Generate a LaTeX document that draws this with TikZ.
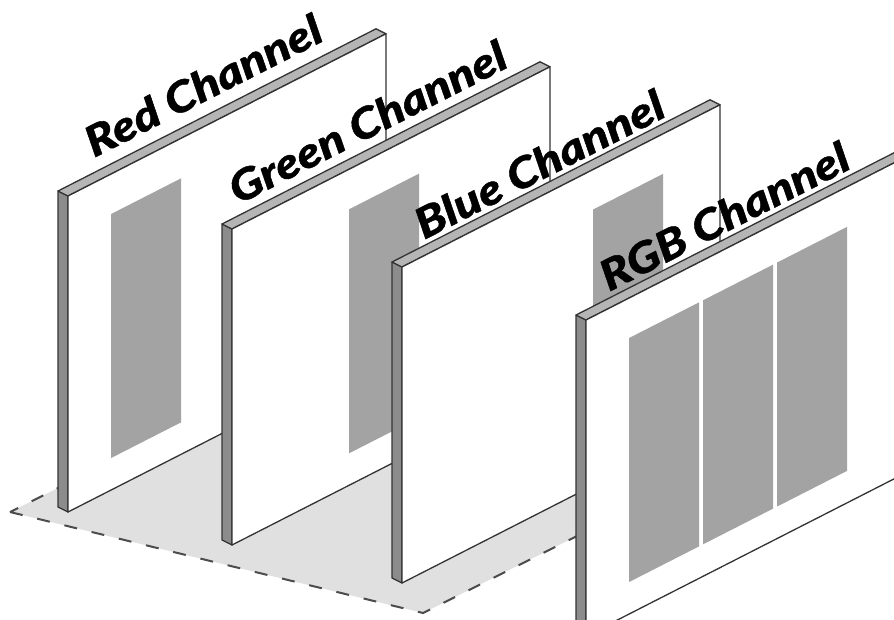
\documentclass[tikz,border=0pt]{standalone}
\usepackage{fontspec}
\IfFontExistsTF{Lato Black Italic}
 {\newfontfamily\lblfont{Lato Black Italic}[FakeBold=1]\newcommand\lblshape{}}
 {\newfontfamily\lblfont{Open Sans}[FakeBold=1.5]\newcommand\lblshape{\bfseries\itshape}}
\tikzset{
 face/.style={fill=white, draw=black!80, line width=1.3pt, line join=round},
 sideface/.style={fill=black!45, draw=black!80, line width=1.3pt, line join=round},
 topface/.style={fill=black!29, draw=black!80, line width=1.3pt, line join=round},
 stripe/.style={fill=black!36},
 floorfill/.style={fill=black!12},
 flooredge/.style={draw=black!70, line width=2pt, dash pattern=on 13pt off 15pt},
 lbl/.style={font=\lblfont\lblshape\fontsize{42}{42}\selectfont, rotate=27, xscale=1.16, anchor=base west, inner sep=0pt}
}
\newcommand\drawpanel[2]{%
 \begin{scope}[shift={(#1)}]
  \draw[sideface] (0,0) -- (0,316) -- (-10,311) -- (-10,-5) -- cycle;
  \draw[topface] (0,0) -- (318,-162.2) -- (308,-167.2) -- (-10,-5) -- cycle;
  \draw[face] (0,0) -- (318,-162.2) -- (318,153.8) -- (0,316) -- cycle;
  \foreach \a in {#2} {
   \path[stripe] (\a,{40-0.51*\a}) -- ({\a+70},{40-0.51*(\a+70)}) -- ({\a+70},{284-0.51*(\a+70)}) -- (\a,{284-0.51*\a}) -- cycle;
  }
 \end{scope}}
\begin{document}
\begin{tikzpicture}[x=1pt,y=-1pt]
\useasboundingbox (0,0) rectangle (894,619);
\clip (0,0) rectangle (894,619);
% floor
\path[floorfill] (10,512) -- (423,613) -- (723,463) -- (310,362) -- cycle;
\draw[flooredge] (10,512) -- (423,613) -- (723,463) -- (310,362) -- cycle;
% panels back to front
\drawpanel{68,196}{43}
\node[lbl] (tred) at (94,158) {Red Channel};
\drawpanel{232,229}{117}
\node[lbl] (tgreen) at (238,205) {Green Channel};
\drawpanel{402,267}{191}
\node[lbl] (tblue) at (424,240) {Blue Channel};
\drawpanel{586,320}{43,117,191}
\node[lbl] (trgb) at (609,292) {RGB Channel};
\end{tikzpicture}
\end{document}
